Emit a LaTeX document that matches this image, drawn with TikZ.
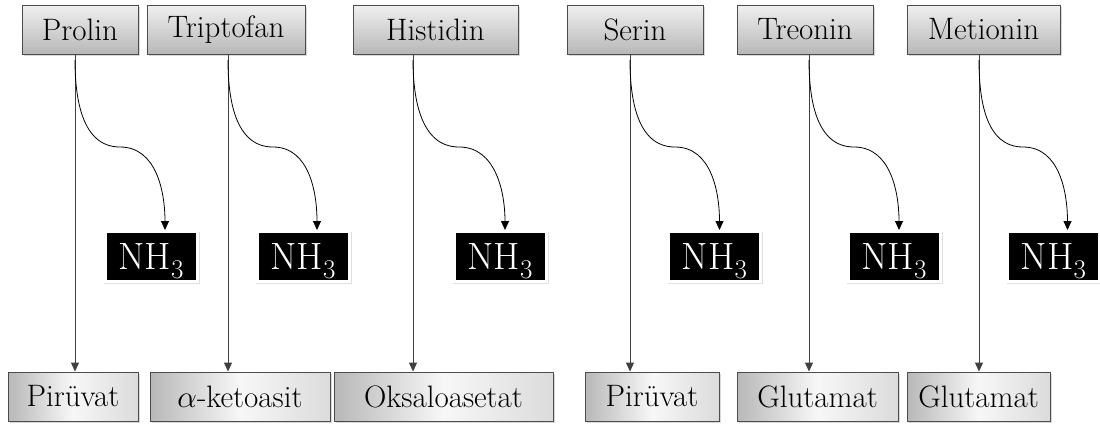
\documentclass[tikz,border=0pt]{standalone}
\usepackage{graphicx}
\usetikzlibrary{shadows,arrows.meta}
\newcommand{\ammoniatext}{NH\smash{\raisebox{-9pt}{\fontsize{27}{30}\selectfont 3}}}
\begin{document}
\begin{tikzpicture}[x=1pt,y=-1pt,
  boxbase/.style={draw=black!70, line width=0.9pt, minimum height=49pt,
    inner sep=0pt, font=\fontsize{31}{36}\selectfont,
    drop shadow={shadow xshift=1.5pt,shadow yshift=-2pt,opacity=0.3}},
  amino/.style={boxbase, top color=black!6, bottom color=black!28},
  product/.style={boxbase, left color=black!28, right color=black!14, middle color=black!3},
  ammonia/.style={fill=black, draw=white, line width=3pt, text=white,
    minimum width=92pt, minimum height=50pt, inner sep=0pt,
    font=\fontsize{38}{44}\selectfont,
    drop shadow={shadow scale=1.04, shadow xshift=1pt,shadow yshift=-1.5pt,opacity=0.25}},
  feed/.style={draw=black!75, line width=1pt, -{Triangle[width=8pt,length=9pt]}},
  release/.style={draw=black, line width=0.8pt, -{Triangle[width=8pt,length=9pt]}}
]
\useasboundingbox (0,0) rectangle (1100,423);

% amino acids
\node[amino, minimum width=116pt] (prolin)   at (80,29.5)    {Prolin};
\node[amino, minimum width=158pt] (tript)    at (226,29.5)   {Triptofan};
\node[amino, minimum width=165pt] (histidin) at (435.5,29.5) {Histidin};
\node[amino, minimum width=136pt] (serin)    at (635,29.5)   {Serin};
\node[amino, minimum width=136pt] (treonin)  at (805,29.5)   {Treonin};
\node[amino, minimum width=153pt] (metionin) at (983.5,29.5) {Metionin};

% products
\node[product, minimum width=130pt] (piruvatA) at (73,396.5)    {Pirüvat};
\node[product, minimum width=180pt] (keto)     at (240,396.5)   {\scalebox{1.25}{$\alpha$}-ketoasit};
\node[product, minimum width=219pt] (oksalo)   at (443.5,396.5) {Oksaloasetat};
\node[product, minimum width=134pt] (piruvatB) at (652,396.5)   {Pirüvat};
\node[product, minimum width=161pt] (glutA)    at (817.5,396.5) {Glutamat};
\node[product, minimum width=143pt] (glutB)    at (978.5,396.5) {Glutamat};

% released ammonia
\node[ammonia] (n1) at (151,256.5)    {\ammoniatext};
\node[ammonia] (n2) at (303,256.5)    {\ammoniatext};
\node[ammonia] (n3) at (500,256.5)    {\ammoniatext};
\node[ammonia] (n4) at (714.5,256.5)  {\ammoniatext};
\node[ammonia] (n5) at (894,256.5)    {\ammoniatext};
\node[ammonia] (n6) at (1053.5,256.5) {\ammoniatext};

% columns of the main pathways
\coordinate (c1) at (75,0);
\coordinate (c2) at (228,0);
\coordinate (c3) at (413,0);
\coordinate (c4) at (630,0);
\coordinate (c5) at (809,0);
\coordinate (c6) at (979,0);

\draw[feed] (prolin.south -| c1)   -- (piruvatA.north -| c1);
\draw[feed] (tript.south -| c2)    -- (keto.north -| c2);
\draw[feed] (histidin.south -| c3) -- (oksalo.north -| c3);
\draw[feed] (serin.south -| c4)    -- (piruvatB.north -| c4);
\draw[feed] (treonin.south -| c5)  -- (glutA.north -| c5);
\draw[feed] (metionin.south -| c6) -- (glutB.north -| c6);

% branch points and bends of the ammonia arrows
\coordinate (b1) at (75,60);   \coordinate (m1) at (120,147);
\coordinate (b2) at (228,60);  \coordinate (m2) at (273,147);
\coordinate (b3) at (413,60);  \coordinate (m3) at (459,147);
\coordinate (b4) at (630,60);  \coordinate (m4) at (675,147);
\coordinate (b5) at (809,60);  \coordinate (m5) at (854,147);
\coordinate (b6) at (979,60);  \coordinate (m6) at (1023,147);

\draw[release] (b1) to[out=-90,in=180] (m1) to[out=0,in=90] ([xshift=14pt]n1.north);
\draw[release] (b2) to[out=-90,in=180] (m2) to[out=0,in=90] ([xshift=14pt]n2.north);
\draw[release] (b3) to[out=-90,in=180] (m3) to[out=0,in=90] ([xshift=5pt]n3.north);
\draw[release] (b4) to[out=-90,in=180] (m4) to[out=0,in=90] ([xshift=5pt]n4.north);
\draw[release] (b5) to[out=-90,in=180] (m5) to[out=0,in=90] ([xshift=5pt]n5.north);
\draw[release] (b6) to[out=-90,in=180] (m6) to[out=0,in=90] ([xshift=14pt]n6.north);
\end{tikzpicture}
\end{document}
